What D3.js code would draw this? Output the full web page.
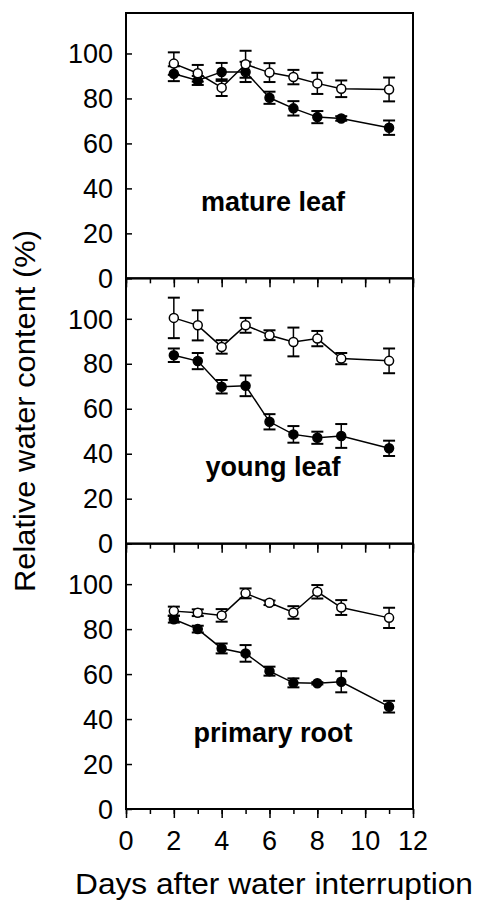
<!DOCTYPE html>
<html>
<head>
<meta charset="utf-8">
<script src="https://cdn.jsdelivr.net/npm/d3@7"></script>
<style>
  body { margin: 0; background: #fff; }
  text { font-family: "Liberation Sans", Arial, Helvetica, sans-serif; fill: #000; }
</style>
</head>
<body>
<div class="chart"></div>
<script>
// days after water interruption
const days = [2, 3, 4, 5, 6, 7, 8, 9, 11];
const panelNames = ["mature leaf", "young leaf", "primary root"];

// open circles (watered) and filled circles (interrupted), mean and error
const matureControl = [95.5, 91.2, 84.8, 95.2, 91.5, 89.5, 86.7, 84.3, 84.0];
const matureControlErr = [5, 3.7, 3.7, 6, 4.2, 3.2, 4.7, 3.7, 5.3];
const matureStress = [91.0, 88.0, 91.8, 91.8, 80.3, 75.6, 71.7, 71.1, 67.0];
const matureStressErr = [3.3, 2, 4, 4.5, 2.7, 3.2, 2.7, 1, 3.2];

const youngControl = [100.4, 97.1, 87.5, 97.1, 92.7, 89.7, 91.2, 82.3, 81.3];
const youngControlErr = [9, 6.7, 3, 3.3, 2.2, 6.4, 3.4, 2.5, 5.5];
const youngStress = [83.8, 81.2, 69.8, 70.2, 54.2, 48.6, 47.1, 47.9, 42.4];
const youngStressErr = [3, 3.6, 3, 4.6, 3.4, 3.7, 2.7, 5.3, 3.4];

const rootControl = [88.0, 87.3, 86.1, 95.9, 91.7, 87.4, 96.6, 89.6, 85.0];
const rootControlErr = [2, 1.5, 2.8, 2.2, 1, 2.8, 3, 3.3, 4.5];
const rootStress = [84.4, 80.0, 71.4, 69.2, 61.3, 56.1, 55.9, 56.6, 45.5];
const rootStressErr = [1.5, 1.5, 2.2, 3.7, 2, 2, 0.5, 4.7, 2.6];

const yTicks = [0, 20, 40, 60, 80, 100];
const xTicks = [0, 2, 4, 6, 8, 10, 12];

const panels = [
  { name: panelNames[0], control: matureControl, controlErr: matureControlErr, stress: matureStress, stressErr: matureStressErr },
  { name: panelNames[1], control: youngControl, controlErr: youngControlErr, stress: youngStress, stressErr: youngStressErr },
  { name: panelNames[2], control: rootControl, controlErr: rootControlErr, stress: rootStress, stressErr: rootStressErr }
];

let width = 477, height = 905;
let marginLeft = 126, marginRight = 64, marginTop = 13, marginBottom = 96;
let plotW = width - marginLeft - marginRight;
let plotH = height - marginTop - marginBottom;
let panelH = plotH / panels.length;

let svg = d3.select(".chart")
  .append("svg")
  .attr("width", width)
  .attr("height", height);

let x = d3.scaleLinear().domain([0, 12]).range([0, plotW]);

let g = svg.append("g")
  .attr("transform", `translate(${marginLeft},${marginTop})`);

panels.forEach((p, i) => {
  let y = d3.scaleLinear().domain([0, 118]).range([panelH, 0]);
  let pg = g.append("g").attr("transform", `translate(0,${i * panelH})`);

  // frame
  pg.append("rect")
    .attr("width", plotW)
    .attr("height", panelH)
    .attr("fill", "none")
    .attr("stroke", "#000")
    .attr("stroke-width", 2);

  // y axis, ticks pointing in
  let yAxis = d3.axisRight(y).tickValues(yTicks).tickSize(6).tickFormat("");
  pg.append("g").call(yAxis)
    .call(a => a.select(".domain").remove())
    .selectAll("line").attr("stroke-width", 1.5);

  pg.selectAll(".ylab")
    .data(yTicks)
    .enter().append("text")
    .attr("x", -13)
    .attr("y", d => y(d))
    .attr("dy", "0.36em")
    .attr("text-anchor", "end")
    .attr("font-size", 27)
    .text(d => d);

  // x axis at bottom of each panel, ticks pointing down
  let xg = pg.append("g").attr("transform", `translate(0,${panelH})`);
  xg.call(d3.axisBottom(x).ticks(12).tickSize(5).tickFormat(""))
    .call(a => a.select(".domain").remove())
    .selectAll("line").attr("stroke-width", 1.5);
  xg.append("g")
    .call(d3.axisBottom(x).tickValues(xTicks).tickSize(9).tickFormat(""))
    .call(a => a.select(".domain").remove())
    .selectAll("line").attr("stroke-width", 1.5);

  if (i === panels.length - 1) {
    xg.selectAll(".xlab")
      .data(xTicks)
      .enter().append("text")
      .attr("x", d => x(d))
      .attr("y", 41)
      .attr("text-anchor", "middle")
      .attr("font-size", 27)
      .text(d => d);
  }

  // panel name
  pg.append("text")
    .attr("x", 147)
    .attr("y", y(30))
    .attr("text-anchor", "middle")
    .attr("font-size", 27)
    .attr("font-weight", "bold")
    .text(p.name);

  let series = [
    { vals: p.stress, err: p.stressErr, fill: "#000" },
    { vals: p.control, err: p.controlErr, fill: "#fff" }
  ];

  let line = d3.line()
    .x((d, j) => x(days[j]))
    .y(d => y(d));

  series.forEach(s => {
    pg.append("path")
      .datum(s.vals)
      .attr("fill", "none")
      .attr("stroke", "#000")
      .attr("stroke-width", 1.5)
      .attr("d", line);
  });

  series.forEach(s => {
    let eg = pg.append("g");
    s.vals.forEach((v, j) => {
      let cx = x(days[j]);
      let top = y(v + s.err[j]), bot = y(v - s.err[j]);
      eg.append("line").attr("x1", cx).attr("x2", cx).attr("y1", top).attr("y2", bot)
        .attr("stroke", "#000").attr("stroke-width", 1.5);
      [top, bot].forEach(yy => {
        eg.append("line").attr("x1", cx - 6).attr("x2", cx + 6).attr("y1", yy).attr("y2", yy)
          .attr("stroke", "#000").attr("stroke-width", 2);
      });
    });
    pg.append("g").selectAll("circle")
      .data(s.vals)
      .enter().append("circle")
      .attr("cx", (d, j) => x(days[j]))
      .attr("cy", d => y(d))
      .attr("r", 4.5)
      .attr("fill", s.fill)
      .attr("stroke", "#000")
      .attr("stroke-width", 1.5);
  });
});

// axis titles
svg.append("text")
  .attr("transform", `translate(35,${marginTop + plotH / 2}) rotate(-90)`)
  .attr("text-anchor", "middle")
  .attr("font-size", 30)
  .attr("textLength", 362)
  .attr("lengthAdjust", "spacingAndGlyphs")
  .text("Relative water content (%)");

svg.append("text")
  .attr("x", 274)
  .attr("y", 894)
  .attr("text-anchor", "middle")
  .attr("font-size", 30)
  .attr("textLength", 398)
  .attr("lengthAdjust", "spacingAndGlyphs")
  .text("Days after water interruption");
</script>
</body>
</html>
